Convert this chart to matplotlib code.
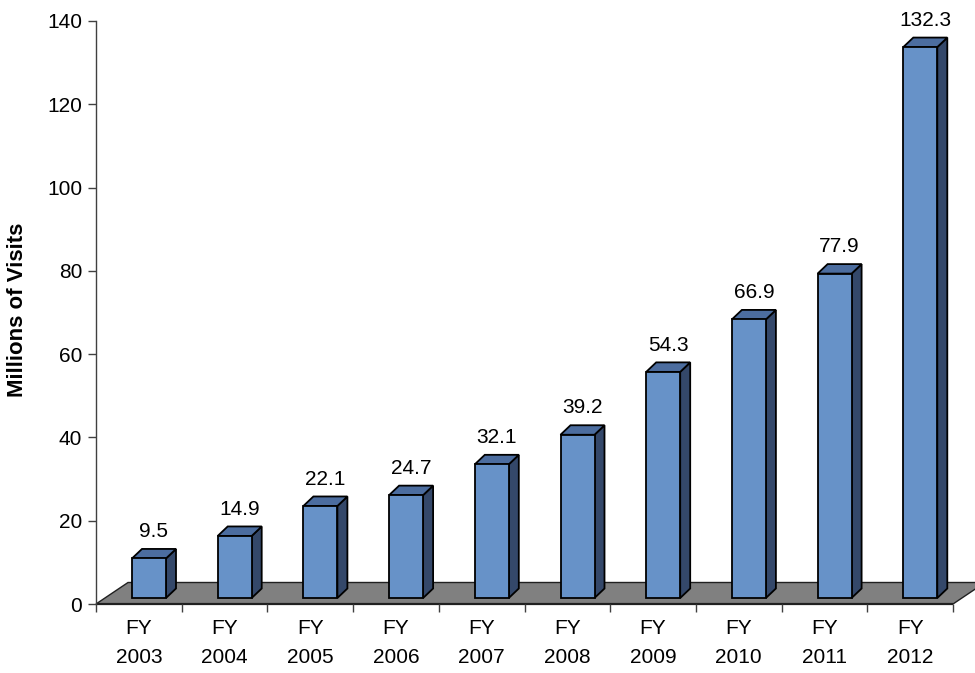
import matplotlib
matplotlib.use("Agg")
import matplotlib.pyplot as plt
from matplotlib.patches import Polygon

categories = ["FY\n2003", "FY\n2004", "FY\n2005", "FY\n2006", "FY\n2007",
              "FY\n2008", "FY\n2009", "FY\n2010", "FY\n2011", "FY\n2012"]
values = [9.5, 14.9, 22.1, 24.7, 32.1, 39.2, 54.3, 66.9, 77.9, 132.3]
value_labels = ["9.5", "14.9", "22.1", "24.7", "32.1", "39.2", "54.3", "66.9", "77.9", "132.3"]
yticks = [0, 20, 40, 60, 80, 100, 120, 140]

plt.rcParams['font.family'] = ['Liberation Sans', 'DejaVu Sans']

W, H = 975, 673
fig = plt.figure(figsize=(W / 100, H / 100), dpi=100)
ax_l, ax_r, ax_top, ax_bot = 96, 953, 21, 604
ax = fig.add_axes([ax_l / W, 1 - ax_bot / H, (ax_r - ax_l) / W, (ax_bot - ax_top) / H])
n = len(values)
ax.set_xlim(0, n)
ax.set_ylim(0, 140)

pxx = (ax_r - ax_l) / n      # pixels per category
pxy = (ax_bot - ax_top) / 140  # pixels per value unit

# floor geometry (pixel based -> data)
fdx, fdy = 32 / pxx, 21.5 / pxy
floor = Polygon([(0, 0), (n, 0), (n + fdx, fdy), (fdx, fdy)], closed=True,
                facecolor='#808080', edgecolor='#202020', linewidth=1.0,
                clip_on=False, zorder=1)
ax.add_patch(floor)
ax.plot([0, n], [0, 0], color='#202020', linewidth=1.6, clip_on=False, zorder=1.5, solid_capstyle='butt')

# bar geometry
b_off = 36 / pxx
b_w = 34 / pxx
base = 6 / pxy
ddx, ddy = 10 / pxx, 9.5 / pxy
front_c = '#6792C8'
top_c = '#4C6D9F'
side_c = '#34486A'
ec = '#000000'
lw = 1.3

for i, v in enumerate(values):
    x0 = i + b_off
    x1 = x0 + b_w
    y0 = base
    y1 = base + v
    side = Polygon([(x1, y0), (x1 + ddx, y0 + ddy), (x1 + ddx, y1 + ddy), (x1, y1)],
                   closed=True, facecolor=side_c, edgecolor=ec, linewidth=lw,
                   joinstyle='miter', clip_on=False, zorder=2 + i * 0.01)
    top = Polygon([(x0, y1), (x1, y1), (x1 + ddx, y1 + ddy), (x0 + ddx, y1 + ddy)],
                  closed=True, facecolor=top_c, edgecolor=ec, linewidth=lw,
                  joinstyle='miter', clip_on=False, zorder=2 + i * 0.01)
    front = Polygon([(x0, y0), (x1, y0), (x1, y1), (x0, y1)],
                    closed=True, facecolor=front_c, edgecolor=ec, linewidth=lw,
                    joinstyle='miter', clip_on=False, zorder=2.005 + i * 0.01)
    for p in (side, top, front):
        ax.add_patch(p)
    ax.annotate(value_labels[i], xy=(x0 + b_w / 2 + ddx / 2, y1 + ddy),
                xytext=(0, 8.5), textcoords='offset points',
                ha='center', va='baseline', fontsize=15, color='#000000',
                annotation_clip=False, zorder=5)

# axes styling
for s in ('top', 'right', 'bottom'):
    ax.spines[s].set_visible(False)
ax.spines['left'].set_color('#404040')
ax.spines['left'].set_linewidth(1.0)
ax.set_yticks(yticks)
ax.set_yticklabels([str(t) for t in yticks])
ax.tick_params(axis='y', direction='out', length=6, width=1.0, color='#404040',
               labelsize=15, pad=4)

ax.set_xticks(range(n + 1))
ax.set_xticklabels([''] * (n + 1))
ax.tick_params(axis='x', which='major', direction='out', length=6, width=1.0,
               color='#404040')
ax.set_xticks([i + 0.5 for i in range(n)], minor=True)
ax.set_xticklabels(categories, minor=True, fontsize=15, linespacing=1.65)
ax.tick_params(axis='x', which='minor', length=0, pad=11)

fig.text(18 / W, 1 - 310 / H, 'Millions of Visits', rotation=90, ha='center',
         va='center', fontsize=16, fontweight='bold')

fig.savefig('out.png', dpi=100)
